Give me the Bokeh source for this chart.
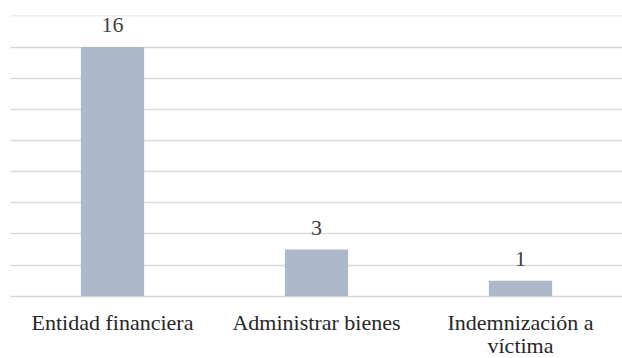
from bokeh.plotting import figure
from bokeh.models import ColumnDataSource, FixedTicker, Range1d, FactorRange, LabelSet
from bokeh.embed import file_html
from bokeh.resources import INLINE

categories = ["Entidad financiera", "Administrar bienes", "Indemnización a\nvíctima"]
values = [16, 3, 1]
value_labels = ["16", "3", "1"]
grid_ticks = [0, 2, 4, 6, 8, 10, 12, 14, 16, 18]

line1 = [c.split("\n")[0] for c in categories]
line2 = [c.split("\n")[1] if "\n" in c else "" for c in categories]

src = ColumnDataSource(data=dict(cat=categories, val=values, lab=value_labels,
                                 base=[0] * len(categories), l1=line1, l2=line2))

FONT = "'Liberation Serif', 'Times New Roman', serif"

p = figure(width=622, height=358, output_backend="svg", toolbar_location=None,
           x_range=FactorRange(*categories, range_padding=0), y_range=Range1d(-4.0, 18.03),
           min_border_left=10, min_border_right=0, min_border_top=15, min_border_bottom=0,
           outline_line_color=None, background_fill_color="white", border_fill_color="white")

p.vbar(x="cat", top="val", bottom=0, width=0.31, source=src, fill_color="#ADB9CA", line_color=None)

labels = LabelSet(x="cat", y="val", text="lab", source=src, y_offset=15,
                  text_align="center", text_baseline="alphabetic",
                  text_font=FONT, text_font_size="22px", text_color="#404040")
p.add_layout(labels)

for col, off in (("l1", -34.0), ("l2", -57.0)):
    p.add_layout(LabelSet(x="cat", y="base", text=col, source=src, y_offset=off,
                          text_align="center", text_baseline="alphabetic",
                          text_font=FONT, text_font_size="22px", text_color="#262626"))

p.yaxis.visible = False
p.xaxis.visible = False
p.xgrid.visible = False
p.ygrid.ticker = FixedTicker(ticks=grid_ticks)
p.ygrid.grid_line_color = "#D9D9D9"
p.ygrid.grid_line_width = 1.5

open("out.html", "w").write(file_html(p, INLINE))
